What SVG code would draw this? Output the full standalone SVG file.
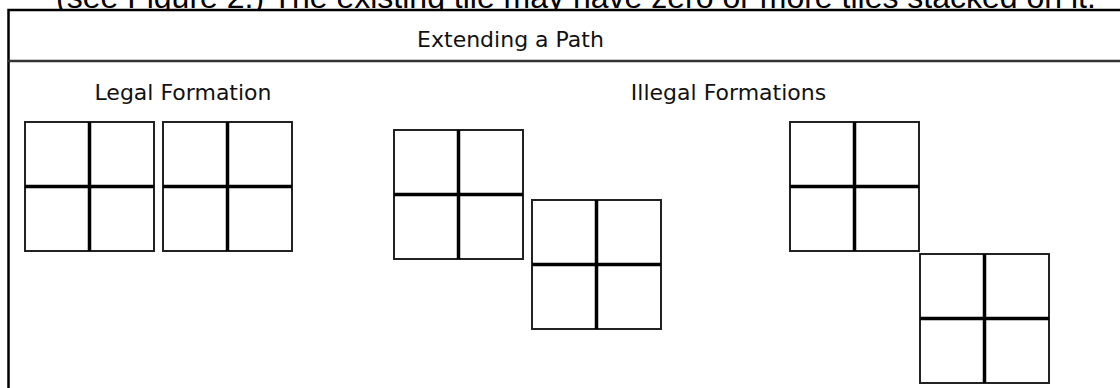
<svg xmlns="http://www.w3.org/2000/svg" xmlns:xlink="http://www.w3.org/1999/xlink" width="1120" height="388" viewBox="0 0 1120 388">
  <style>
    .caption { font-family: "Liberation Sans", Arial, sans-serif; font-size: 32px; fill: #000; }
    .label { font-family: "DejaVu Sans", Tahoma, Verdana, sans-serif; font-size: 22px; fill: #111; text-anchor: middle; }
    .frame { fill: #fff; stroke: #000; stroke-width: 2.5; }
    .divider { stroke: #333; stroke-width: 2.5; }
    .tile-outline { fill: #fff; stroke: #222; stroke-width: 2; }
    .tile-cross { stroke: #000; stroke-width: 3.5; }
  </style>
  <defs>
    <g id="tile">
      <rect class="tile-outline" x="1" y="1" width="129" height="129"/>
      <line class="tile-cross" x1="65.5" y1="1" x2="65.5" y2="130"/>
      <line class="tile-cross" x1="1" y1="65.5" x2="130" y2="65.5"/>
    </g>
  </defs>
  <rect width="1120" height="388" fill="#fff"/>
  <text class="caption" x="56" y="8">(see Figure 2.) The existing tile may have zero or more tiles stacked on it.</text>
  <g id="frame">
    <rect class="frame" x="8.5" y="10" width="1130" height="400"/>
    <line class="divider" x1="8" y1="61" x2="1120" y2="61"/>
    <text class="label" x="510.5" y="47">Extending a Path</text>
  </g>
  <g id="legal-label"><text class="label" x="183" y="100">Legal Formation</text></g>
  <g id="illegal-label"><text class="label" x="728.5" y="100">Illegal Formations</text></g>
  <g id="tile-legal-1"><use xlink:href="#tile" x="24" y="121"/></g>
  <g id="tile-legal-2"><use xlink:href="#tile" x="162" y="121"/></g>
  <g id="tile-illegal-a1"><use xlink:href="#tile" x="393" y="129"/></g>
  <g id="tile-illegal-a2"><use xlink:href="#tile" x="531" y="199"/></g>
  <g id="tile-illegal-b1"><use xlink:href="#tile" x="789" y="121"/></g>
  <g id="tile-illegal-b2"><use xlink:href="#tile" x="919" y="253"/></g>
  <g id="connectors"/>
</svg>
